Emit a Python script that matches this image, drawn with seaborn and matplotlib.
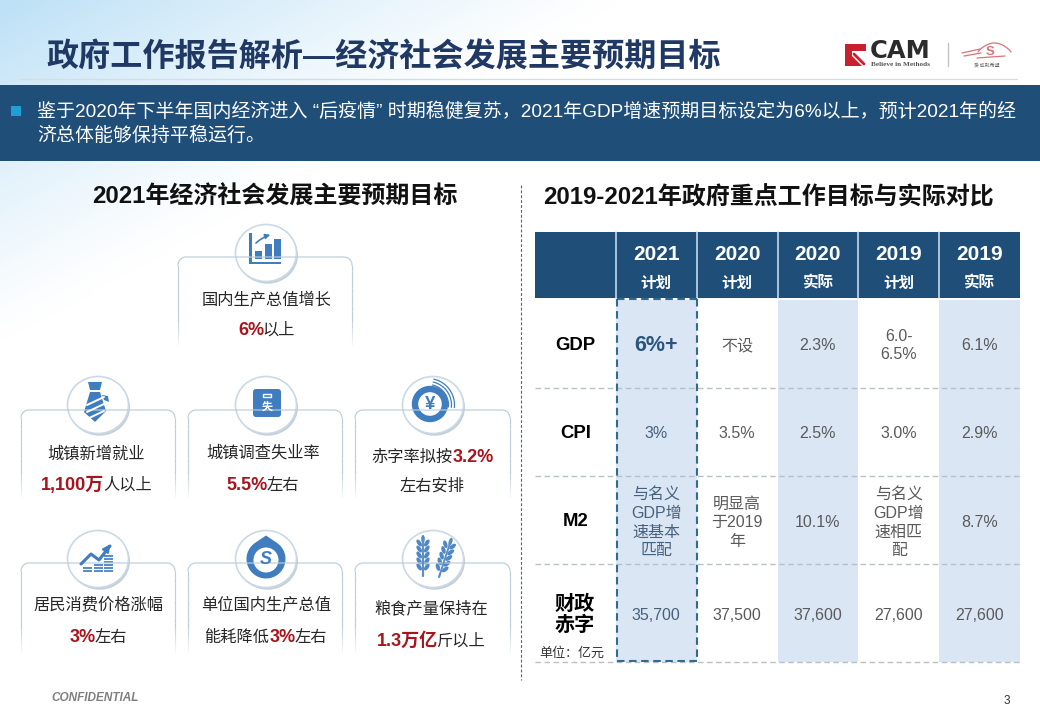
import re
import numpy as np
import matplotlib
matplotlib.use("Agg")
import matplotlib.pyplot as plt
from matplotlib.colors import ListedColormap
from matplotlib.patches import Circle, Ellipse, FancyBboxPatch, Polygon, Rectangle
import seaborn as sns

# ---------- content ----------
title = "政府工作报告解析—经济社会发展主要预期目标"
banner_line1 = "鉴于2020年下半年国内经济进入 “后疫情” 时期稳健复苏，2021年GDP增速预期目标设定为6%以上，预计2021年的经"
banner_line2 = "济总体能够保持平稳运行。"
left_heading = "2021年经济社会发展主要预期目标"
right_heading = "2019-2021年政府重点工作目标与实际对比"

# {..} marks the highlighted run
card_first = ["国内生产总值增长", "城镇新增就业", "城镇调查失业率", "赤字率拟按{3.2%}",
              "居民消费价格涨幅", "单位国内生产总值", "粮食产量保持在"]
card_second = ["{6%}以上", "{1,100万}人以上", "{5.5%}左右", "左右安排",
               "{3%}左右", "能耗降低{3%}左右", "{1.3万亿}斤以上"]

header_years = ["2021", "2020", "2020", "2019", "2019"]
header_kinds = ["计划", "计划", "实际", "计划", "实际"]
row_labels = ["GDP", "CPI", "M2", "财政\n赤字"]
unit_note = "单位：亿元"
gdp_row = ["6%+", "不设", "2.3%", "6.0-\n6.5%", "6.1%"]
cpi_row = ["3%", "3.5%", "2.5%", "3.0%", "2.9%"]
m2_row = ["与名义\nGDP增\n速基本\n匹配", "明显高\n于2019\n年", "10.1%", "与名义\nGDP增\n速相匹\n配", "8.7%"]
deficit_row = ["35,700", "37,500", "37,600", "27,600", "27,600"]
column_shaded = [0, 1, 0, 1, 0, 1]

# ---------- colours ----------
NAVY = "#1f4e79"
TITLE = "#1f3864"
ICON = "#3f7dbf"
RED = "#a8141c"
SHADE = "#dae6f3"
GRAY = "#5a5a5a"
DARK = "#262626"

sns.set_theme(style="white")
plt.rcParams["font.family"] = ["Liberation Sans", "Noto Sans CJK SC", "DejaVu Sans"]

W, H = 1040, 720
fig = plt.figure(figsize=(W / 100, H / 100), dpi=100, facecolor="white")


def pixel_axes(x0, y0, x1, y1, z):
    return fig.add_axes([x0 / W, 1 - y1 / H, (x1 - x0) / W, (y1 - y0) / H], zorder=z)


# ---------- background wash ----------
bg = pixel_axes(0, 0, W, H, 0)
xx, yy = np.meshgrid(np.linspace(0, W, 260), np.linspace(0, H, 180))
wash = np.clip(1 - xx / 620 - yy / 340, 0, 1)[..., None] ** 1.15
tint = np.array([0.74, 0.88, 0.965])
bg.imshow(1 - wash * (1 - tint), extent=(0, W, H, 0), aspect="auto", interpolation="bilinear")
bg.axis("off")

# ---------- table fills drawn with seaborn heatmaps ----------
TX0, TX1 = 535, 1020
head_ax = pixel_axes(TX0, 232, TX1, 298, 1)
sns.heatmap(np.zeros((1, 6)), ax=head_ax, cmap=ListedColormap([NAVY]), cbar=False,
            xticklabels=False, yticklabels=False)
body_ax = pixel_axes(TX0, 300, TX1, 662, 1)
sns.heatmap(np.array([column_shaded]), ax=body_ax, cmap=ListedColormap(["white", SHADE]),
            vmin=0, vmax=1, cbar=False, xticklabels=False, yticklabels=False)

# ---------- overlay in pixel coordinates ----------
ax = pixel_axes(0, 0, W, H, 2)
ax.set_xlim(0, W)
ax.set_ylim(H, 0)
ax.axis("off")
ax.patch.set_alpha(0)
renderer = fig.canvas.get_renderer()


def txt(x, y, s, size, color=DARK, weight="normal", ha="center", va="center", **kw):
    return ax.text(x, y, s, fontsize=size, color=color, fontweight=weight, ha=ha, va=va, **kw)


def rich(cx, baseline, source, size=11.7, hi_size=13):
    parts = [p for p in re.split(r"(\{[^}]*\})", source) if p]
    items = []
    for p in parts:
        hi = p.startswith("{")
        t = ax.text(0, baseline, p.strip("{}"), va="baseline", ha="left",
                    fontsize=hi_size if hi else size,
                    fontweight="bold" if hi else "normal", color=RED if hi else DARK)
        items.append((t, t.get_window_extent(renderer).width - (1.5 if hi else 0)))
    x = cx - sum(w for _, w in items) / 2
    for t, w in items:
        t.set_x(x)
        x += w


# ---------- header ----------
ax.plot([20, 1017], [78.5, 78.5], color="#d5dde4", lw=1)
txt(46, 58.5, title, 23.1, TITLE, "bold", ha="left")
ax.add_patch(Rectangle((0, 85), W, 76, color=NAVY, lw=0))
ax.add_patch(Rectangle((11, 106), 10, 10, color="#1e9fd8", lw=0))
txt(37, 112, banner_line1, 13.65, "white", ha="left")
txt(37, 136, banner_line2, 13.65, "white", ha="left")

# logo
ax.add_patch(Rectangle((845, 44), 21, 22, color="#c8202c", lw=0))
ax.add_patch(Polygon([(852, 51), (866, 51), (866, 66), (862, 66), (852, 56)], color="white", lw=0))
ax.plot([854, 864], [54, 64], color="#c8202c", lw=2)
txt(870, 50.5, "CAM", 17.5, "#2b2b2b", "bold", ha="left", family="DejaVu Sans")
txt(871, 64.5, "Believe in Methods", 5.2, "#555555", "bold", ha="left", family="Liberation Serif")
ax.plot([947.5, 947.5], [43, 66], color="#c4c4c4", lw=1)
t_car = np.linspace(0, 1, 40)
car_c = "#d8737b"
ax.plot(978 + 33 * t_car, 52 - 9 * np.sin(np.pi * t_car) ** 0.8, color=car_c, lw=0.9)
ax.plot([962, 980], [53, 49], color=car_c, lw=0.9)
ax.plot([964, 981], [56, 53], color=car_c, lw=0.9)
ax.plot([977, 1005], [58, 56], color=car_c, lw=0.9)
txt(990, 52, "S", 9.5, car_c, "bold")
txt(987, 65, "爱·成就希望", 3.6, "#666666")

# ---------- headings and divider ----------
txt(274.5, 197.5, left_heading, 17.3, "#111111", "bold")
txt(768, 197.5, right_heading, 17.3, "#111111", "bold")
ax.plot([520.5, 520.5], [185, 680], color="#3a6a8f", lw=0.8, ls=(0, (2.6, 1.8)))


# ---------- cards ----------
def card(x0, y0, x1, y1, r=8):
    edge = "#bccdda"
    ax.add_patch(Rectangle((x0, y0 + 1), x1 - x0, y1 - y0, color="white", alpha=0.55, lw=0))
    a = np.linspace(0, np.pi / 2, 12)
    ax.plot(np.r_[x0 + r - r * np.cos(a), x1 - r + r * np.sin(a)],
            np.r_[y0 + r - r * np.sin(a), y0 + r - r * np.cos(a)], color=edge, lw=0.85)
    ys = np.linspace(y0 + r, y1, 15)
    for k in range(14):
        alpha = min(1, (14 - k) / 5)
        for x in (x0, x1):
            ax.plot([x, x], [ys[k], ys[k + 1]], color=edge, lw=0.85, alpha=alpha, solid_capstyle="butt")


def badge(cx, cy):
    ax.add_patch(Ellipse((cx + 1.5, cy + 2.2), 61, 57, color="#9fb0c0", alpha=0.6, lw=0))
    ax.add_patch(Ellipse((cx, cy), 61, 57, fc="white", ec="#cbd9e5", lw=1.2))


def poly(pts, cx, cy, color=ICON):
    ax.add_patch(Polygon([(cx + a, cy + b) for a, b in pts], color=color, lw=0))


def ic_bars(cx, cy):
    poly([(-17, -20), (-14, -20), (-14, 8.5), (15, 8.5), (15, 11), (-17, 11)], cx, cy)
    for bx, top in ((-11, -2), (-1, -9), (8, -14)):
        ax.add_patch(Rectangle((cx + bx, cy + top), 7, 6 - top, color=ICON, lw=0))
    ax.annotate("", xy=(cx + 7, cy - 19), xytext=(cx - 12, cy - 8),
                arrowprops=dict(arrowstyle="-|>", color=ICON, lw=1.2, connectionstyle="arc3,rad=-0.15",
                                mutation_scale=7))


def ic_tie(cx, cy):
    poly([(-10, -23), (4, -23), (2, -15), (-8, -15)], cx, cy)
    poly([(-8, -13), (2, -13), (8, 6), (-3, 17), (-14, 7)], cx, cy)
    for d in (-8, -1, 6):
        ax.plot([cx - 11, cx + 6], [cy + d + 8, cy + d], color="white", lw=1.4)
    poly([(4, -10), (10, -9), (11, -3), (6, -5)], cx, cy)


def ic_case(cx, cy):
    ax.add_patch(FancyBboxPatch((cx - 10.5, cy - 13.5), 23, 23, boxstyle="round,pad=2.5,rounding_size=3",
                                color=ICON, lw=0))
    ax.add_patch(Rectangle((cx - 3, cy - 11), 8, 3, fc="none", ec="white", lw=1))
    txt(cx + 1, cy + 1.5, "失", 8, "white", "bold")


def ic_yen(cx, cy):
    ax.add_patch(Circle((cx - 3, cy - 1), 15, fc="none", ec=ICON, lw=4.6))
    txt(cx - 3, cy - 0.5, "¥", 13.5, ICON, "bold")
    a = np.linspace(-1.35, 0.1, 20)
    for r in (20.5, 23.5, 26.5):
        ax.plot(cx - 5 + r * np.cos(a), cy + r * np.sin(a), color=ICON, lw=0.9)


def ic_coins(cx, cy):
    ax.plot([cx - 17, cx - 7, cx + 1, cx + 12], [cy + 5, cy - 5, cy + 1, cy - 13], color=ICON, lw=2.2)
    ax.annotate("", xy=(cx + 14, cy - 17), xytext=(cx + 9, cy - 10),
                arrowprops=dict(arrowstyle="-|>", color=ICON, lw=1.5, mutation_scale=11))
    for bx, n in ((-11, 2), (0, 3), (10, 6)):
        for k in range(n):
            ax.add_patch(Rectangle((cx + bx - 4.5, cy + 10.5 - k * 3), 9, 2.4, color="#5b8fc9", lw=0))


def ic_drop(cx, cy):
    gap = np.arccos(19.5 / 23.5)
    a = np.linspace(-np.pi / 2 + gap, 1.5 * np.pi - gap, 60)
    xs = cx + 19.5 * np.cos(a)
    ys = cy + 19.5 * np.sin(a)
    ax.add_patch(Polygon(np.c_[np.r_[xs, cx], np.r_[ys, cy - 23.5]], color=ICON, lw=0))
    ax.add_patch(Circle((cx, cy + 1), 12.5, color="white", lw=0))
    txt(cx, cy + 1, "S", 13, ICON, "bold", style="italic")


def ic_wheat(cx, cy):
    for bx, by, ang in ((-10, 14, 0), (7, 15, 18)):
        rad = np.deg2rad(ang)
        dx, dy = np.sin(rad), -np.cos(rad)
        ax.plot([cx + bx, cx + bx + dx * 34], [cy + by, cy + by + dy * 34], color="#5a8fc6", lw=1.4)
        ax.plot([cx + bx, cx + bx - dx * 3], [cy + by, cy + by + 3], color="#5a8fc6", lw=1.6)
        for k in range(5):
            d = 5 + k * 6
            for s in (-1, 1):
                ax.add_patch(Ellipse((cx + bx + dx * d + s * 3.8 * np.cos(rad), cy + by + dy * d + s * 3.8 * np.sin(rad) - 1),
                                     4, 8, angle=ang + s * 35, color="#4f88c4", lw=0))
        ax.add_patch(Ellipse((cx + bx + dx * 34, cy + by + dy * 34), 3.6, 8, angle=ang, color="#4f88c4", lw=0))


card_boxes = [(178, 257, 352, 345), (21, 410, 175, 497), (188, 410, 342, 497), (355, 410, 510, 497),
              (21, 563, 175, 652), (188, 563, 342, 652), (355, 563, 510, 652)]
badge_centres = [(266, 253), (98, 405), (266, 405), (433, 405), (98, 559), (266, 559), (433, 559)]
icons = [ic_bars, ic_tie, ic_case, ic_yen, ic_coins, ic_drop, ic_wheat]
first_cx = [266.5, 96.5, 263, 432, 98, 266.5, 431]
second_cx = [266.5, 96.5, 263, 432.5, 98, 265.5, 431]
first_base = [304, 459, 458, 462, 609, 609, 613]
second_base = [335, 490, 490, 491, 642, 642, 646]

for i, box in enumerate(card_boxes):
    card(*box)
    badge(*badge_centres[i])
    icons[i](*badge_centres[i])
    rich(first_cx[i], first_base[i], card_first[i])
    rich(second_cx[i], second_base[i], card_second[i])

# ---------- table text ----------
col_w = (TX1 - TX0) / 6
col_c = [TX0 + col_w * (k + 0.5) for k in range(6)]
for k in range(1, 6):
    ax.plot([TX0 + k * col_w] * 2, [232, 298], color="#c4d9ee", lw=1.2)
for k, (yr, kind) in enumerate(zip(header_years, header_kinds)):
    txt(col_c[k + 1], 255, yr, 15, "white", "bold")
    txt(col_c[k + 1], 283, kind, 11.2, "white", "bold")

row_y = [345.5, 433.5, 522.5, 616]
for label, y in zip(row_labels[:3], row_y):
    txt(col_c[0], y - 0.5, label, 13.3, "black", "bold")
txt(col_c[0] - 0.5, 615, row_labels[3], 14.5, "black", "bold", linespacing=1.08)
txt(572, 653.5, unit_note, 9.4, "#333333")

for rows, y in zip((gdp_row, cpi_row, m2_row, deficit_row), row_y):
    for k, value in enumerate(rows):
        color = "#46617e" if k == 0 else GRAY
        if value == gdp_row[0]:
            txt(col_c[k + 1], y, value, 15.5, "#2a5480", "bold")
        else:
            txt(col_c[k + 1], y, value, 11.5, color, linespacing=1.3)

for y in (388, 476, 564, 662):
    ax.plot([TX0, TX1], [y, y], color="#b5c0c8", lw=1, ls=(0, (4, 2.5)))

box_c = "#2f6c92"
box_ls = (0, (3.6, 2.2))
for x in (616.5, 697):
    ax.plot([x, x], [299, 661], color=box_c, lw=1.5, ls=box_ls)
for y in (299, 661):
    ax.plot([616.5, 697], [y, y], color=box_c, lw=1.5, ls=box_ls)

# ---------- footer ----------
txt(51, 698, "CONFIDENTIAL", 8.5, "#7f7f7f", "bold", ha="left", style="italic")
txt(1007, 701.5, "3", 8.5, "#333333")

fig.savefig("out.png", dpi=100)
